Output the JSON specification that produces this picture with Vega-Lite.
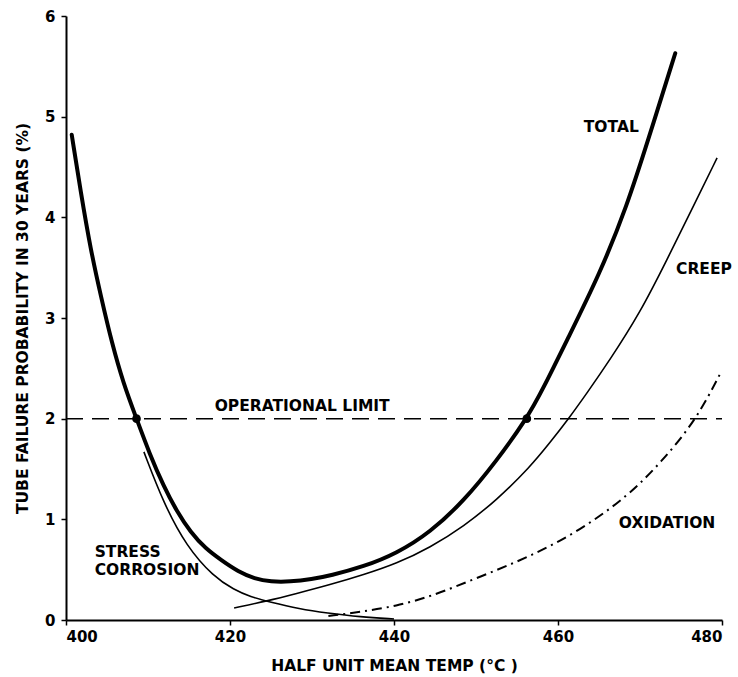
{
  "$schema": "https://vega.github.io/schema/vega-lite/v6.json",
  "width": 656,
  "height": 604,
  "autosize": {"type": "none"},
  "padding": {"left": 66, "top": 16, "right": 16, "bottom": 57},
  "background": "white",
  "config": {
    "view": {"stroke": null},
    "font": "DejaVu Sans",
    "axis": {
      "domainColor": "black", "domainWidth": 2, "tickColor": "black", "tickWidth": 1.5, "tickSize": 5,
      "labelColor": "black", "labelFont": "DejaVu Sans", "labelFontWeight": "bold", "labelFontSize": 15,
      "titleColor": "black", "titleFont": "DejaVu Sans", "titleFontWeight": "bold", "titleFontSize": 15.5,
      "grid": false
    }
  },
  "datasets": {
    "curves": [
      {"series": "total", "x": 400.7, "y": 4.82},
      {"series": "total", "x": 401.8, "y": 4.25},
      {"series": "total", "x": 403.0, "y": 3.68},
      {"series": "total", "x": 404.3, "y": 3.20},
      {"series": "total", "x": 405.6, "y": 2.75},
      {"series": "total", "x": 407.0, "y": 2.35},
      {"series": "total", "x": 408.6, "y": 2.0},
      {"series": "total", "x": 410.2, "y": 1.65},
      {"series": "total", "x": 411.9, "y": 1.33},
      {"series": "total", "x": 413.5, "y": 1.08},
      {"series": "total", "x": 415.2, "y": 0.87},
      {"series": "total", "x": 417.0, "y": 0.71},
      {"series": "total", "x": 419.0, "y": 0.59},
      {"series": "total", "x": 421.0, "y": 0.48},
      {"series": "total", "x": 423.0, "y": 0.41},
      {"series": "total", "x": 425.0, "y": 0.38},
      {"series": "total", "x": 427.3, "y": 0.38},
      {"series": "total", "x": 430.0, "y": 0.405},
      {"series": "total", "x": 432.2, "y": 0.44},
      {"series": "total", "x": 436.3, "y": 0.53},
      {"series": "total", "x": 440.3, "y": 0.66},
      {"series": "total", "x": 444.4, "y": 0.87},
      {"series": "total", "x": 448.5, "y": 1.18},
      {"series": "total", "x": 452.5, "y": 1.58},
      {"series": "total", "x": 456.2, "y": 2.0},
      {"series": "total", "x": 458.2, "y": 2.3},
      {"series": "total", "x": 461.1, "y": 2.78},
      {"series": "total", "x": 465.1, "y": 3.44},
      {"series": "total", "x": 468.4, "y": 4.11},
      {"series": "total", "x": 471.0, "y": 4.77},
      {"series": "total", "x": 474.3, "y": 5.63},
      {"series": "creep", "x": 420.5, "y": 0.12},
      {"series": "creep", "x": 424.6, "y": 0.19},
      {"series": "creep", "x": 428.0, "y": 0.26},
      {"series": "creep", "x": 432.2, "y": 0.35},
      {"series": "creep", "x": 436.3, "y": 0.45},
      {"series": "creep", "x": 440.3, "y": 0.56},
      {"series": "creep", "x": 444.4, "y": 0.72},
      {"series": "creep", "x": 448.5, "y": 0.93},
      {"series": "creep", "x": 452.5, "y": 1.19},
      {"series": "creep", "x": 456.6, "y": 1.52},
      {"series": "creep", "x": 459.0, "y": 1.76},
      {"series": "creep", "x": 461.3, "y": 2.0},
      {"series": "creep", "x": 463.5, "y": 2.25},
      {"series": "creep", "x": 466.3, "y": 2.58},
      {"series": "creep", "x": 470.0, "y": 3.05},
      {"series": "creep", "x": 473.3, "y": 3.58},
      {"series": "creep", "x": 476.5, "y": 4.11},
      {"series": "creep", "x": 479.4, "y": 4.59},
      {"series": "stress", "x": 409.5, "y": 1.67},
      {"series": "stress", "x": 411.9, "y": 1.16},
      {"series": "stress", "x": 414.7, "y": 0.73},
      {"series": "stress", "x": 418.0, "y": 0.43},
      {"series": "stress", "x": 420.5, "y": 0.30},
      {"series": "stress", "x": 422.5, "y": 0.23},
      {"series": "stress", "x": 424.8, "y": 0.18},
      {"series": "stress", "x": 428.5, "y": 0.11},
      {"series": "stress", "x": 431.8, "y": 0.07},
      {"series": "stress", "x": 435.9, "y": 0.03},
      {"series": "stress", "x": 440.0, "y": 0.01},
      {"series": "oxidation", "x": 432.0, "y": 0.04},
      {"series": "oxidation", "x": 436.0, "y": 0.08},
      {"series": "oxidation", "x": 440.3, "y": 0.14},
      {"series": "oxidation", "x": 444.4, "y": 0.23},
      {"series": "oxidation", "x": 450.5, "y": 0.43},
      {"series": "oxidation", "x": 456.6, "y": 0.63},
      {"series": "oxidation", "x": 462.7, "y": 0.89},
      {"series": "oxidation", "x": 468.5, "y": 1.23},
      {"series": "oxidation", "x": 472.5, "y": 1.56},
      {"series": "oxidation", "x": 476.8, "y": 1.98},
      {"series": "oxidation", "x": 479.8, "y": 2.45}
    ],
    "limit": [{"x": 400, "y": 2}, {"x": 480, "y": 2}],
    "dots": [{"x": 408.6, "y": 2}, {"x": 456.2, "y": 2}],
    "labels": [
      {"x": 466.5, "y": 4.90, "label": "TOTAL"},
      {"x": 477.8, "y": 3.49, "label": "CREEP"},
      {"x": 428.8, "y": 2.13, "label": "OPERATIONAL LIMIT"},
      {"x": 473.3, "y": 0.96, "label": "OXIDATION"}
    ],
    "leftlabels": [
      {"x": 403.5, "y": 0.68, "label": "STRESS"},
      {"x": 403.5, "y": 0.50, "label": "CORROSION"}
    ]
  },
  "layer": [
    {
      "data": {"name": "limit"},
      "mark": {"type": "line", "color": "black", "strokeWidth": 1.5, "strokeDash": [17, 9]},
      "encoding": {
        "x": {"field": "x", "type": "quantitative", "scale": {"domain": [400, 480]},
              "axis": {"values": [400, 420, 440, 460, 480], "format": "d", "title": "HALF UNIT MEAN TEMP (\u00b0C )", "titlePadding": 14, "labelPadding": 4}},
        "y": {"field": "y", "type": "quantitative", "scale": {"domain": [0, 6]},
              "axis": {"values": [0, 1, 2, 3, 4, 5, 6], "format": "d", "title": "TUBE FAILURE PROBABILITY IN 30 YEARS (%)", "titlePadding": 14, "labelPadding": 6}}
      }
    },
    {
      "data": {"name": "curves"},
      "transform": [{"filter": "datum.series === 'total'"}],
      "mark": {"type": "line", "color": "black", "strokeWidth": 4, "interpolate": "basis", "strokeCap": "round"},
      "encoding": {"x": {"field": "x", "type": "quantitative"}, "y": {"field": "y", "type": "quantitative"}}
    },
    {
      "data": {"name": "curves"},
      "transform": [{"filter": "datum.series === 'creep' || datum.series === 'stress'"}],
      "mark": {"type": "line", "color": "black", "strokeWidth": 1.6, "interpolate": "basis"},
      "encoding": {"x": {"field": "x", "type": "quantitative"}, "y": {"field": "y", "type": "quantitative"}, "detail": {"field": "series"}}
    },
    {
      "data": {"name": "curves"},
      "transform": [{"filter": "datum.series === 'oxidation'"}],
      "mark": {"type": "line", "color": "black", "strokeWidth": 2, "interpolate": "basis", "strokeDash": [10, 5, 2, 5]},
      "encoding": {"x": {"field": "x", "type": "quantitative"}, "y": {"field": "y", "type": "quantitative"}}
    },
    {
      "data": {"name": "dots"},
      "mark": {"type": "circle", "color": "black", "size": 75, "opacity": 1},
      "encoding": {"x": {"field": "x", "type": "quantitative"}, "y": {"field": "y", "type": "quantitative"}}
    },
    {
      "data": {"name": "labels"},
      "mark": {"type": "text", "color": "black", "font": "DejaVu Sans", "fontWeight": "bold", "fontSize": 15.5, "baseline": "middle", "align": "center"},
      "encoding": {
        "x": {"field": "x", "type": "quantitative"},
        "y": {"field": "y", "type": "quantitative"},
        "text": {"field": "label"}
      }
    },
    {
      "data": {"name": "leftlabels"},
      "mark": {"type": "text", "color": "black", "font": "DejaVu Sans", "fontWeight": "bold", "fontSize": 15.5, "baseline": "middle", "align": "left"},
      "encoding": {
        "x": {"field": "x", "type": "quantitative"},
        "y": {"field": "y", "type": "quantitative"},
        "text": {"field": "label"}
      }
    }
  ]
}
